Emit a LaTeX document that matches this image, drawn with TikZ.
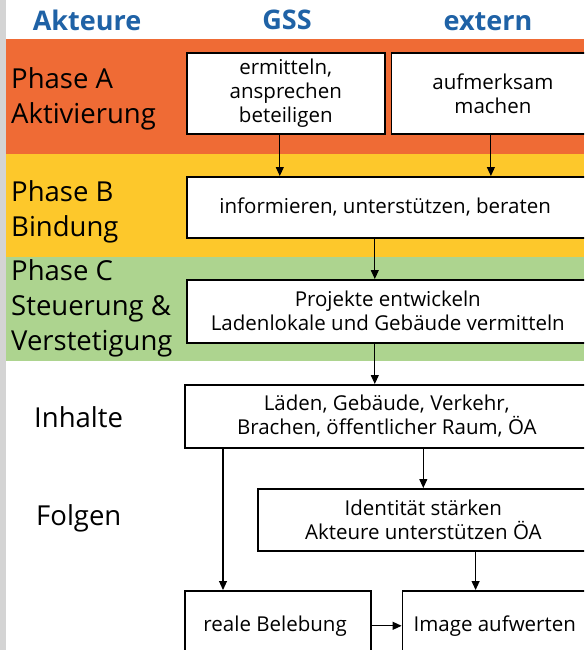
\documentclass[tikz,border=0pt]{standalone}
\usepackage{fontspec}
\setmainfont{Open Sans}
\usetikzlibrary{
    arrows.meta,
    positioning,
    calc
}
\definecolor{phaseA}{HTML}{EF6B35}
\definecolor{phaseB}{HTML}{FDC82B}
\definecolor{phaseC}{HTML}{ADD48F}
\definecolor{headblue}{HTML}{1F62A6}
\definecolor{strip}{HTML}{D4D4D4}
\newcommand\boxfont{\fontsize{20.5}{24}\selectfont}
\newcommand\phasefont{\fontsize{27.5}{35}\selectfont}
\newcommand\headfont{\fontsize{27}{30}\selectfont\bfseries}
\tikzset{
    box/.style={
        draw,
        line width=1.6pt,
        fill=white,
        align=center,
        anchor=north west,
        inner sep=0pt,
        font=\boxfont
    },
    phase/.style={
        anchor=west,
        align=left,
        inner sep=0pt,
        font=\phasefont
    },
    head/.style={
        anchor=base,
        text=headblue,
        font=\headfont
    },
    flow/.style={
        -{Triangle[length=9pt,width=8pt]},
        line width=1.1pt
    }
}

\begin{document}
\begin{tikzpicture}[x=1pt,y=-1pt]
        \useasboundingbox (0,0) rectangle (584,650);
        \clip (0,0) rectangle (584,650);

        % Phase bands
        \fill[phaseA] (6,39) rectangle (584,154);
        \fill[phaseB] (6,154) rectangle (584,257);
        \fill[phaseC] (6,257) rectangle (584,361);
        \fill[strip] (0,0) rectangle (6,650);

        % Column heads
        \node [head] (akteure) at (87,31) {Akteure};
        \node [head] (gss) at (287,30) {GSS};
        \node [head] (extern) at (488,31) {extern};

        % Row labels
        \node [phase] (phaseA) at (11,99) {Phase A\\Aktivierung};
        \node [phase] (phaseB) at (11,212) {Phase B\\Bindung};
        \node [phase] (phaseC) at (11,308) {Phase C\\Steuerung \&\\Verstetigung};
        \node [phase] (inhalte) at (34,417) {Inhalte};
        \node [phase] (folgen) at (36,518) {Folgen};

        % Phase A
        \node [box, minimum width=198pt, minimum height=81pt] (ermitteln) at (186,52) {
            ermitteln,\\ansprechen\\beteiligen
        };
        \node [box, minimum width=203pt, minimum height=81pt, right=5pt of ermitteln.north east, anchor=north west] (aufmerksam) {
            aufmerksam\\machen
        };

        % Phase B
        \node [box, minimum width=402pt, minimum height=61pt] (informieren) at (186,176) {
            informieren, unterstützen, beraten
        };

        % Phase C
        \node [box, minimum width=402pt, minimum height=63pt] (projekte) at (186,279) {
            Projekte entwickeln\\Ladenlokale und Gebäude vermitteln
        };

        % Inhalte
        \node [box, minimum width=404pt, minimum height=63pt] (laeden) at (184,384) {
            Läden, Gebäude, Verkehr,\\Brachen, öffentlicher Raum, ÖA
        };

        % Folgen
        \node [box, minimum width=331pt, minimum height=62pt] (identitaet) at (257,488) {
            Identität stärken\\Akteure unterstützen ÖA
        };
        \node [box, minimum width=186pt, minimum height=70pt] (belebung) at (184,590) {
            reale Belebung
        };
        \node [box, minimum width=190pt, minimum height=70pt, right=30pt of belebung.north east, anchor=north west] (image) {
            Image aufwerten
        };

        % Arrows
        \draw [flow] ([xshift=-6pt]ermitteln.south) -- ([xshift=-6pt]ermitteln.south |- informieren.north);
        \draw [flow] ([xshift=-2pt]aufmerksam.south) -- ([xshift=-2pt]aufmerksam.south |- informieren.north);
        \draw [flow] ([xshift=-13pt]informieren.south) -- ([xshift=-13pt]informieren.south |- projekte.north);
        \draw [flow] ([xshift=-13pt]projekte.south) -- ([xshift=-13pt]projekte.south |- laeden.north);
        \draw [flow] ([xshift=39pt]laeden.south west) -- ([xshift=39pt]belebung.north west);
        \draw [flow] (identitaet.north |- laeden.south) -- (identitaet.north);
        \draw [flow] ([xshift=74pt]image.north west |- identitaet.south) -- ([xshift=74pt]image.north west);
        \draw [flow] (belebung.east) -- (image.west);
    \end{tikzpicture}
\end{document}
